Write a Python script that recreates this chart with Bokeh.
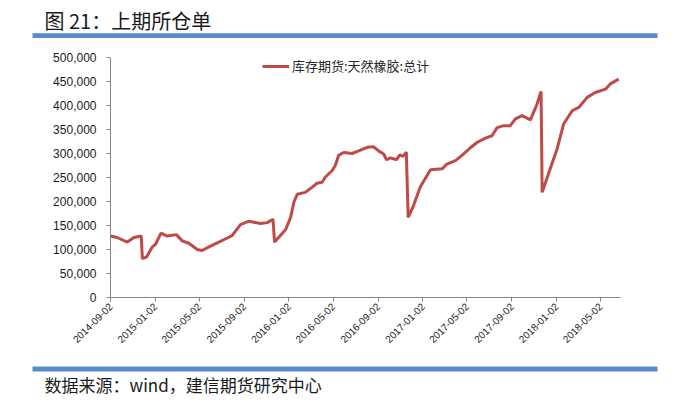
import math
import pandas as pd
from bokeh.plotting import figure
from bokeh.layouts import column
from bokeh.models import (Label, BoxAnnotation, FixedTicker, DatetimeTickFormatter,
                          NumeralTickFormatter, Range1d, Legend, LegendItem)
from bokeh.embed import file_html
from bokeh.resources import INLINE

# ---- data ----
dates = [
    "2014-09-02", "2014-09-20", "2014-10-18", "2014-11-05", "2014-11-25", "2014-11-28",
    "2014-12-09", "2014-12-25", "2015-01-03", "2015-01-18", "2015-02-04", "2015-03-01",
    "2015-03-17", "2015-04-04", "2015-04-27", "2015-05-10", "2015-06-02", "2015-06-25",
    "2015-07-18", "2015-07-31", "2015-08-23", "2015-09-15", "2015-10-17", "2015-11-04",
    "2015-11-20", "2015-11-24", "2015-12-10", "2015-12-24", "2016-01-07", "2016-01-16",
    "2016-01-25", "2016-02-16", "2016-03-06", "2016-03-19", "2016-04-02", "2016-04-11",
    "2016-04-29", "2016-05-08", "2016-05-17", "2016-05-31", "2016-06-23", "2016-07-16",
    "2016-08-03", "2016-08-21", "2016-09-04", "2016-09-17", "2016-09-25", "2016-10-06",
    "2016-10-22", "2016-10-31", "2016-11-09", "2016-11-18", "2016-11-23", "2016-12-08",
    "2016-12-26", "2017-01-23", "2017-02-24", "2017-03-09", "2017-04-01", "2017-04-19",
    "2017-05-12", "2017-05-30", "2017-06-22", "2017-07-10", "2017-07-24", "2017-08-11",
    "2017-08-29", "2017-09-12", "2017-09-30", "2017-10-23", "2017-11-10", "2017-11-21",
    "2017-11-24", "2017-12-16", "2018-01-04", "2018-01-22", "2018-02-14", "2018-03-04",
    "2018-03-27", "2018-04-18", "2018-05-16", "2018-05-29", "2018-06-21",
]
values = [
    128000, 125000, 115500, 125000, 128000, 81000,
    84000, 105000, 111000, 134000, 128000, 131000,
    118000, 113000, 100000, 98000, 107000, 115500,
    124000, 129000, 152000, 159000, 154000, 156000,
    163000, 115500, 129000, 141000, 167000, 199000,
    215000, 219000, 230000, 238000, 240000, 251000,
    264000, 275000, 296000, 302000, 300000, 307000,
    313000, 314000, 305000, 299000, 287000, 291000,
    287000, 297000, 294000, 303000, 167000, 192000,
    230000, 266000, 268000, 278000, 285000, 296000,
    312000, 323000, 332000, 337000, 354000, 358000,
    358000, 372000, 379000, 370000, 403000, 429000,
    219000, 268000, 310000, 362000, 389000, 396000,
    417000, 427000, 434000, 445000, 455000,
]
tick_dates = [
    "2014-09-02", "2015-01-02", "2015-05-02", "2015-09-02", "2016-01-02", "2016-05-02",
    "2016-09-02", "2017-01-02", "2017-05-02", "2017-09-02", "2018-01-02", "2018-05-02",
]
y_ticks = [0, 50000, 100000, 150000, 200000, 250000, 300000, 350000, 400000, 450000, 500000]
x_start, x_end = "2014-09-02", "2018-06-26"
title_text = "图 21：上期所仓单"
series_name = "库存期货:天然橡胶:总计"
source_text = "数据来源：wind，建信期货研究中心"

LINE_COLOR = "#BE4B48"
BAR_COLOR = "#5B8BC6"
AXIS_COLOR = "#868686"
CJK = "Noto Sans CJK SC"
W = 684


def banner(height):
    f = figure(width=W, height=height, x_range=Range1d(0, W), y_range=Range1d(height, 0),
               x_axis_type=None, y_axis_type=None, output_backend="svg",
               toolbar_location=None, title=None, min_border=0, frame_align=False)
    f.outline_line_color = None
    f.grid.visible = False
    return f


# ---- header ----
head = banner(48)
head.add_layout(Label(x=44, y=19.5, text=title_text, text_font=CJK, text_font_size="20px",
                      text_baseline="middle", text_align="left", text_color="#1a1a1a"))
head.add_layout(BoxAnnotation(left=32, right=657, top=32.7, bottom=37.5,
                              fill_color=BAR_COLOR, fill_alpha=1, line_color=None))

# ---- main chart ----
x = pd.to_datetime(dates)
p = figure(width=W, height=310, x_axis_type="datetime", output_backend="svg",
           toolbar_location=None, title=None, frame_align=False,
           x_range=Range1d(pd.Timestamp(x_start), pd.Timestamp(x_end)),
           y_range=Range1d(0, 500000),
           min_border_left=110, min_border_right=64, min_border_top=9, min_border_bottom=61)
p.outline_line_color = None
p.grid.visible = False

r = p.line(x, values, line_color=LINE_COLOR, line_width=3)

p.xaxis.ticker = FixedTicker(ticks=[pd.Timestamp(d).value / 1e6 for d in tick_dates])
fmt = "%Y-%m-%d"
p.xaxis.formatter = DatetimeTickFormatter(
    microseconds=fmt, milliseconds=fmt, seconds=fmt, minsec=fmt, minutes=fmt,
    hourmin=fmt, hours=fmt, days=fmt, months=fmt, years=fmt, context=None)
p.xaxis.major_label_orientation = math.pi / 4
p.xaxis.major_label_text_font = "Liberation Sans"
p.xaxis.major_label_text_font_size = "10px"
p.xaxis.major_label_standoff = 3

p.yaxis.ticker = FixedTicker(ticks=y_ticks)
p.yaxis.formatter = NumeralTickFormatter(format="0,0")
p.yaxis.major_label_text_font = "Liberation Sans"
p.yaxis.major_label_text_font_size = "12px"
p.yaxis.major_label_standoff = 10

for ax in (p.xaxis, p.yaxis):
    ax.axis_line_color = AXIS_COLOR
    ax.axis_line_width = 1
    ax.major_tick_line_color = AXIS_COLOR
    ax.major_tick_out = 4
    ax.major_tick_in = 0
    ax.minor_tick_line_color = None
    ax.major_label_text_color = "#1a1a1a"

legend = Legend(items=[LegendItem(label=series_name, renderers=[r])],
                location=(152, 222), orientation="horizontal",
                padding=0, margin=0, spacing=0, label_standoff=3,
                glyph_width=27, glyph_height=16, label_height=16,
                border_line_color=None, background_fill_alpha=0,
                label_text_font=CJK, label_text_font_size="13px",
                label_text_color="#262626")
p.add_layout(legend)

# ---- footer ----
foot = banner(48)
foot.add_layout(BoxAnnotation(left=32, right=657, top=8, bottom=13,
                              fill_color=BAR_COLOR, fill_alpha=1, line_color=None))
foot.add_layout(Label(x=44, y=26, text=source_text, text_font=CJK, text_font_size="17px",
                      text_baseline="middle", text_align="left", text_color="#1a1a1a"))

layout = column(head, p, foot, spacing=0)
open("out.html", "w").write(file_html(layout, INLINE))
